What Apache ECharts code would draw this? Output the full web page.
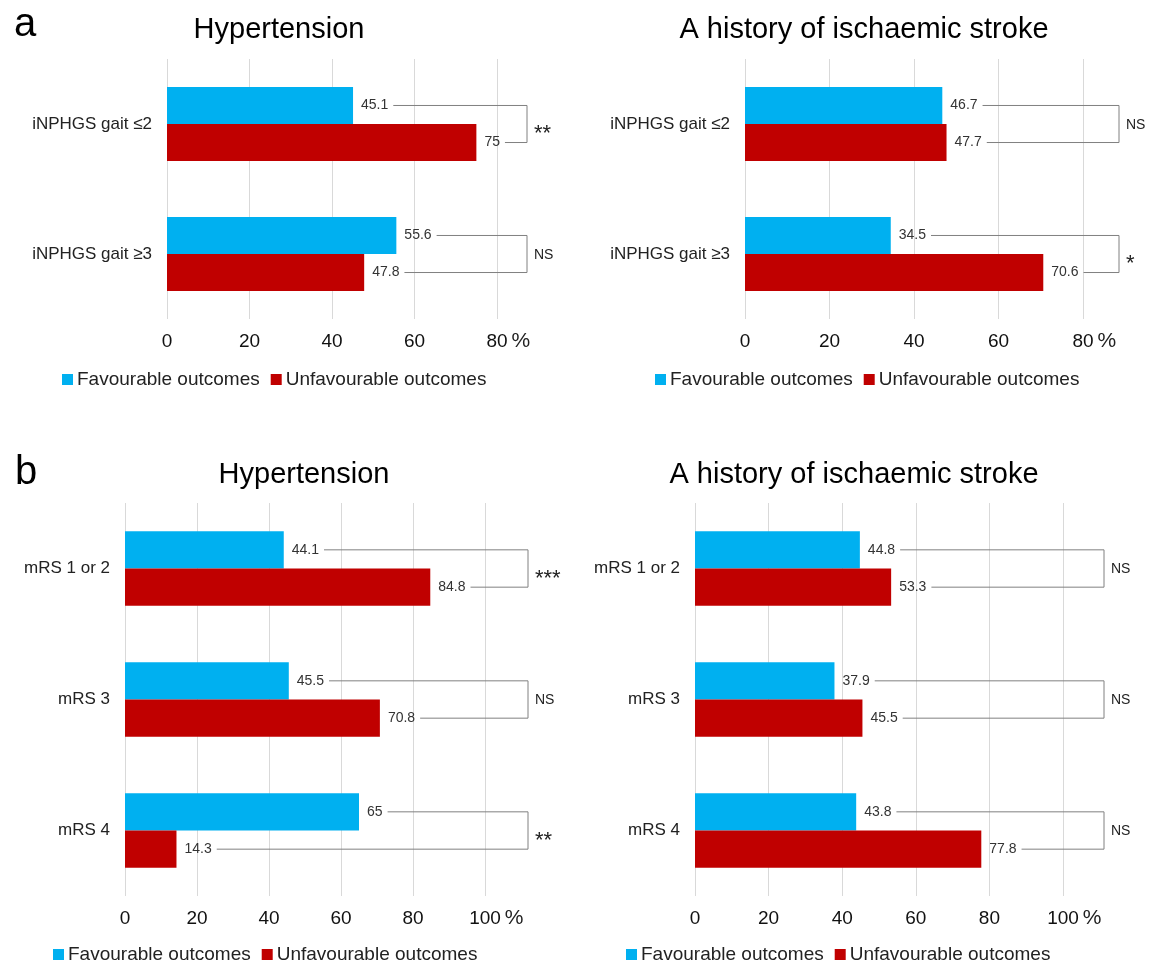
<!DOCTYPE html>
<html>
<head>
<meta charset="utf-8">
<script src="https://cdn.jsdelivr.net/npm/echarts@6/dist/echarts.min.js"></script>
<style>
  html, body { margin: 0; padding: 0; background: #fff; }
  #chart { width: 1157px; height: 963px; }
</style>
</head>
<body>
<div id="chart"></div>
<script>
// Categories
const gaitCats = ['iNPHGS gait ≤2', 'iNPHGS gait ≥3'];
const mrsCats = ['mRS 1 or 2', 'mRS 3', 'mRS 4'];

// a: Hypertension
const aHtnFav = [45.1, 55.6];
const aHtnUnfav = [75, 47.8];
const aHtnSig = ['**', 'NS'];

// a: A history of ischaemic stroke
const aStrokeFav = [46.7, 34.5];
const aStrokeUnfav = [47.7, 70.6];
const aStrokeSig = ['NS', '*'];

// b: Hypertension
const bHtnFav = [44.1, 45.5, 65];
const bHtnUnfav = [84.8, 70.8, 14.3];
const bHtnSig = ['***', 'NS', '**'];

// b: A history of ischaemic stroke
const bStrokeFav = [44.8, 37.9, 43.8];
const bStrokeUnfav = [53.3, 45.5, 77.8];
const bStrokeSig = ['NS', 'NS', 'NS'];

const ticksA = [0, 20, 40, 60, 80];
const ticksB = [0, 20, 40, 60, 80, 100];

const FONT = '"Liberation Sans", Arial, sans-serif';
const BLUE = '#00b0f0';
const RED = '#c00000';
const LINE = '#808080';

// measure label widths so the bracket lines start just after the numbers
const ctx = document.createElement('canvas').getContext('2d');
ctx.font = '14px ' + FONT;
function textW(s) { return ctx.measureText(s).width; }

// panel layouts (pixels)
const panels = [
  { cats: gaitCats, fav: aHtnFav, unfav: aHtnUnfav, sig: aHtnSig, ticks: ticksA,
    grid: { left: 167, top: 59, width: 330, height: 260 }, bracket: 30 },
  { cats: gaitCats, fav: aStrokeFav, unfav: aStrokeUnfav, sig: aStrokeSig, ticks: ticksA,
    grid: { left: 745, top: 59, width: 338, height: 260 }, bracket: 36 },
  { cats: mrsCats, fav: bHtnFav, unfav: bHtnUnfav, sig: bHtnSig, ticks: ticksB,
    grid: { left: 125, top: 503, width: 360, height: 393 }, bracket: 43 },
  { cats: mrsCats, fav: bStrokeFav, unfav: bStrokeUnfav, sig: bStrokeSig, ticks: ticksB,
    grid: { left: 695, top: 503, width: 368, height: 393 }, bracket: 41 }
];

const grid = [], xAxis = [], yAxis = [], series = [];

panels.forEach((p, k) => {
  grid.push(p.grid);
  const max = p.ticks[p.ticks.length - 1];
  xAxis.push({
    gridIndex: k, type: 'value', min: 0, max: max, interval: 20,
    name: '%', nameLocation: 'end', nameGap: 12,
    nameTextStyle: { fontFamily: FONT, fontSize: 21, color: '#222', verticalAlign: 'top', align: 'left', padding: [12, 0, 0, 0] },
    axisLine: { show: false }, axisTick: { show: false },
    axisLabel: { fontFamily: FONT, fontSize: 19, color: '#111', margin: 13 },
    splitLine: { show: true, lineStyle: { color: '#d9d9d9', width: 1 } }
  });
  yAxis.push({
    gridIndex: k, type: 'category', data: p.cats, inverse: true,
    axisLine: { show: false }, axisTick: { show: false },
    axisLabel: { fontFamily: FONT, fontSize: 17, color: '#222', margin: 15 },
    splitLine: { show: false }
  });
  const labelCfg = { show: true, position: 'right', distance: 8, fontFamily: FONT, fontSize: 14, color: '#333' };
  series.push({
    name: 'Favourable outcomes', type: 'bar', xAxisIndex: k, yAxisIndex: k,
    data: p.fav, itemStyle: { color: BLUE }, barGap: '0%', barCategoryGap: '43%',
    label: labelCfg
  });
  series.push({
    name: 'Unfavourable outcomes', type: 'bar', xAxisIndex: k, yAxisIndex: k,
    data: p.unfav, itemStyle: { color: RED }, barGap: '0%', barCategoryGap: '43%',
    label: labelCfg
  });
  // significance brackets
  series.push({
    name: 'sig' + k, type: 'custom', xAxisIndex: k, yAxisIndex: k, clip: false, silent: true,
    data: p.fav.map((f, i) => [f, i, p.unfav[i]]),
    encode: { x: 0, y: 1 },
    renderItem: function (params, api) {
      const i = params.dataIndex;
      const f = api.value(0), u = api.value(2);
      const c = api.coord([0, i]);
      const band = api.size([0, 1])[1];
      const bw = band * 0.57 / 2;
      const yF = c[1] - bw / 2, yU = c[1] + bw / 2;
      const xF = api.coord([f, i])[0] + 8 + textW(String(f)) + 5;
      const xU = api.coord([u, i])[0] + 8 + textW(String(u)) + 5;
      const cs = params.coordSys;
      const xb = cs.x + cs.width + p.bracket;
      const s = p.sig[i];
      const star = s !== 'NS';
      return {
        type: 'group',
        children: [
          { type: 'polyline', shape: { points: [[xF, yF], [xb, yF], [xb, yU], [xU, yU]] },
            style: { stroke: LINE, lineWidth: 1, fill: null } },
          { type: 'text', x: xb + 7, y: c[1] + (star ? 10 : 1),
            style: { text: s, fontFamily: FONT, fontSize: star ? 22 : 14, fill: '#222',
                     verticalAlign: 'middle', align: 'left' } }
        ]
      };
    }
  });
});

const chart = echarts.init(document.getElementById('chart'), null, { renderer: 'canvas' });
chart.setOption({
  animation: false,
  backgroundColor: '#fff',
  title: [
    { text: 'a', left: 9, top: 0, textStyle: { fontFamily: FONT, fontSize: 40, fontWeight: 'normal', color: '#000' } },
    { text: 'b', left: 10, top: 448, textStyle: { fontFamily: FONT, fontSize: 40, fontWeight: 'normal', color: '#000' } },
    { text: 'Hypertension', left: 274, textAlign: 'center', top: 10, textStyle: { fontFamily: FONT, fontSize: 29, fontWeight: 'normal', color: '#000' } },
    { text: 'A history of ischaemic stroke', left: 859, textAlign: 'center', top: 10, textStyle: { fontFamily: FONT, fontSize: 29, fontWeight: 'normal', color: '#000' } },
    { text: 'Hypertension', left: 299, textAlign: 'center', top: 455, textStyle: { fontFamily: FONT, fontSize: 29, fontWeight: 'normal', color: '#000' } },
    { text: 'A history of ischaemic stroke', left: 849, textAlign: 'center', top: 455, textStyle: { fontFamily: FONT, fontSize: 29, fontWeight: 'normal', color: '#000' } }
  ],
  legend: [
    { left: 57, top: 365 },
    { left: 650, top: 365 },
    { left: 48, top: 940 },
    { left: 621, top: 940 }
  ].map(l => Object.assign({
    data: ['Favourable outcomes', 'Unfavourable outcomes'],
    icon: 'rect', itemWidth: 11, itemHeight: 11, itemGap: 11,
    textStyle: { fontFamily: FONT, fontSize: 19, color: '#222', padding: [0, 0, 0, -1] }
  }, l)),
  grid: grid,
  xAxis: xAxis,
  yAxis: yAxis,
  series: series
});
</script>
</body>
</html>
